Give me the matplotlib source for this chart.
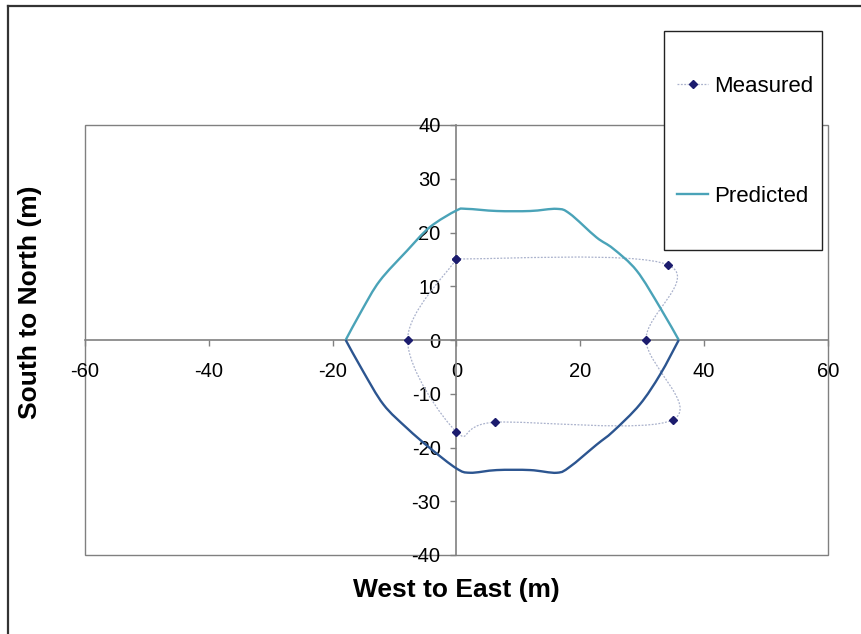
import matplotlib
matplotlib.use("Agg")
import matplotlib.pyplot as plt
import numpy as np
from matplotlib.path import Path
from matplotlib.patches import PathPatch, Rectangle
from matplotlib.lines import Line2D

plt.rcParams['font.family'] = ['Liberation Sans', 'DejaVu Sans']
plt.rcParams['axes.unicode_minus'] = False

# Measured positions (series starts and ends at the same point)
meas_x = [0, 34.1, 30.6, 35.0, 6.2, 0, -7.9, 0]
meas_y = [15.1, 14.0, 0, -14.8, -15.3, -17.1, 0, 15.1]

# Predicted outline, northern half
pred_up_x = [-17.9, -15.3, -12.4, -8.0, -4.3, 0, 1.6, 6.5, 11.9, 16.2, 18.3, 22.6, 25.3, 29.1, 32.9, 35.9]
pred_up_y = [0, 5.5, 11.0, 16.6, 21.0, 24.1, 24.4, 24.0, 24.0, 24.4, 23.5, 19.1, 17.0, 12.9, 6.0, 0]

# Predicted outline, southern half
pred_lo_x = [-17.9, -15.1, -11.8, -8.0, -4.3, 0, 2.2, 6.5, 11.9, 16.2, 18.3, 22.6, 25.3, 29.6, 32.9, 35.9]
pred_lo_y = [0, -5.8, -12.0, -16.4, -20.1, -23.9, -24.7, -24.2, -24.2, -24.7, -23.6, -19.5, -17.0, -12.0, -6.4, 0]

x_ticks = [-60, -40, -20, 0, 20, 40, 60]
y_ticks = [-40, -30, -20, -10, 0, 10, 20, 30, 40]


def smooth_path(xs, ys):
    # Excel-style smoothed line: Catmull-Rom segments as cubic Beziers
    pts = np.column_stack([xs, ys]).astype(float)
    n = len(pts)
    get = lambda i: pts[min(max(i, 0), n - 1)]
    verts = [pts[0]]
    codes = [Path.MOVETO]
    for i in range(n - 1):
        p0, p1, p2, p3 = get(i - 1), get(i), get(i + 1), get(i + 2)
        c1 = p1 + (p2 - p0) / 6.0
        c2 = p2 - (p3 - p1) / 6.0
        verts += [c1, c2, p2]
        codes += [Path.CURVE4] * 3
    return Path(verts, codes)


fig = plt.figure(figsize=(8.62, 6.34), dpi=100)
ax = fig.add_axes([85 / 862, 1 - 555 / 634, 743 / 862, 430 / 634])

grey = '#808080'
meas_col = '#aab2cc'
mark_col = '#1c1c6e'
up_col = '#4aa3b8'
lo_col = '#2c5590'

# measured: thin dotted smoothed line with diamond markers
ax.add_patch(PathPatch(smooth_path(meas_x, meas_y), fill=False,
                       ec=meas_col, lw=0.9, ls=(0, (1.5, 1.2)), zorder=3))
ax.plot(meas_x, meas_y, ls='none', marker='D', ms=4.5, color=mark_col, zorder=5)

# predicted halves
ax.add_patch(PathPatch(smooth_path(pred_up_x, pred_up_y), fill=False,
                       ec=up_col, lw=1.7, zorder=4))
ax.add_patch(PathPatch(smooth_path(pred_lo_x, pred_lo_y), fill=False,
                       ec=lo_col, lw=1.7, zorder=4))

ax.set_xlim(-60, 60)
ax.set_ylim(-40, 40)
ax.set_xticks(x_ticks)
ax.set_yticks(y_ticks)

ax.spines['left'].set_position('zero')
ax.spines['bottom'].set_position('zero')
for s in ['left', 'bottom']:
    ax.spines[s].set_color(grey)
    ax.spines[s].set_linewidth(1.2)
ax.spines['top'].set_visible(False)
ax.spines['right'].set_visible(False)
ax.add_patch(Rectangle((0, 0), 1, 1, transform=ax.transAxes, fill=False,
                       ec=grey, lw=1.0, zorder=1, clip_on=False))

ax.tick_params(axis='both', direction='out', length=4.5, width=1.0,
               color=grey, labelsize=14.5)
ax.tick_params(axis='x', pad=11)
ax.tick_params(axis='y', pad=7)
ax.set_facecolor('white')

# legend box
fig.add_artist(Rectangle((664 / 862, 1 - 250 / 634), 158 / 862, 219 / 634,
                         transform=fig.transFigure, fc='white', ec='#222222',
                         lw=1.0, zorder=3))
h_meas = Line2D([], [], color=meas_col, lw=0.9, ls=(0, (1.5, 1.2)),
                marker='D', ms=4.5, mfc=mark_col, mec=mark_col)
h_pred = Line2D([], [], color=up_col, lw=1.7)
leg = fig.legend([h_meas, h_pred], ['Measured', 'Predicted'],
                 loc='upper left', bbox_to_anchor=(677 / 862, 1 - 76 / 634),
                 fontsize=16, frameon=False,
                 labelspacing=4.0, handlelength=1.4, handletextpad=0.25,
                 borderpad=0, borderaxespad=0)
leg.set_zorder(6)

fig.text(456 / 862, 1 - 590 / 634, 'West to East (m)', fontsize=19,
         fontweight='bold', ha='center', va='center')
fig.text(30 / 862, 1 - 302 / 634, 'South to North (m)', fontsize=19,
         fontweight='bold', ha='center', va='center', rotation=90)

# outer chart frame (cropped on right and bottom)
fig.add_artist(Line2D([8 / 862, 8 / 862], [0, 1 - 6 / 634], color='#333333', lw=1.6))
fig.add_artist(Line2D([8 / 862, 1], [1 - 6 / 634, 1 - 6 / 634], color='#333333', lw=1.6))

fig.savefig('out.png', dpi=100)
